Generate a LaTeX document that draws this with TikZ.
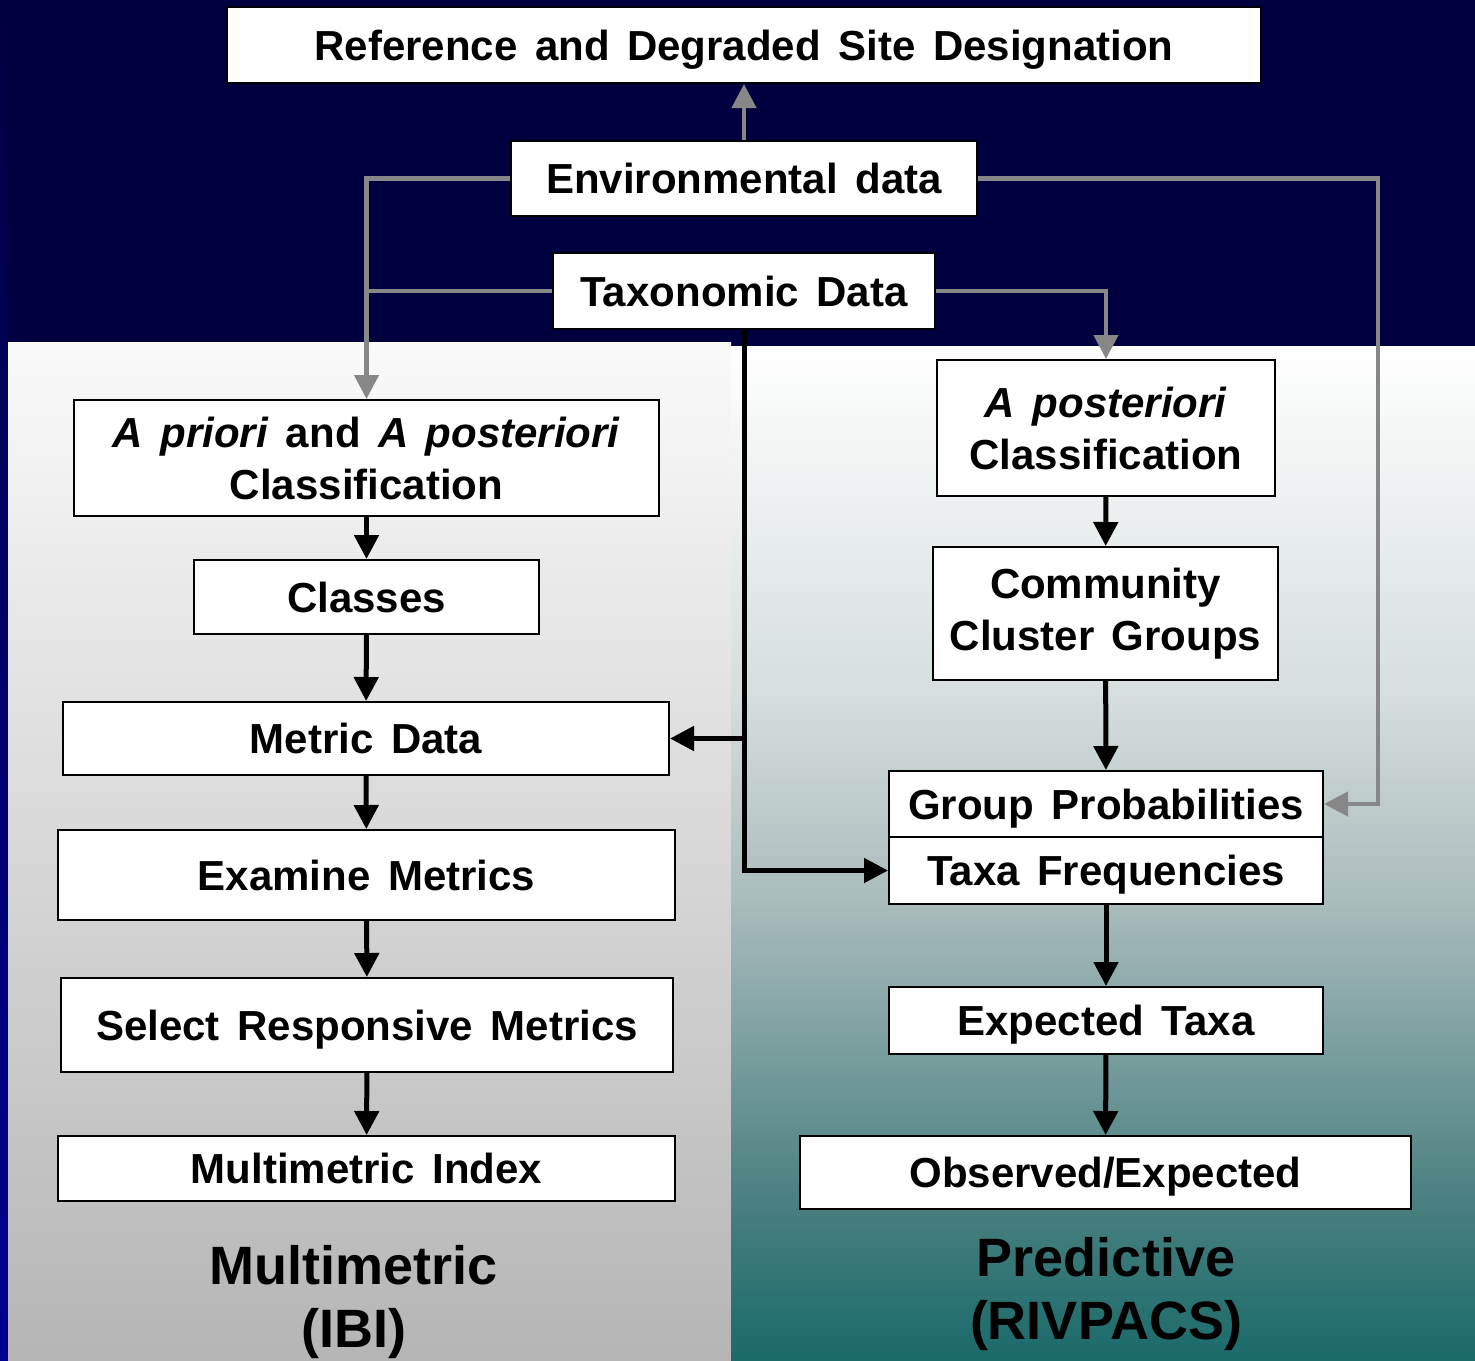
\documentclass[tikz,border=0pt]{standalone}
\usepackage{fontspec}
\setmainfont{Liberation Sans}[WordSpace=1.5]
\usetikzlibrary{arrows.meta,
                positioning
            }

\definecolor{navybg}{HTML}{000040}
\definecolor{stripblue}{HTML}{000090}
\definecolor{feedgray}{HTML}{878787}
\definecolor{tealA}{HTML}{D5DDDD}
\definecolor{tealB}{HTML}{AABCBC}
\definecolor{tealC}{HTML}{4A8080}
\definecolor{tealD}{HTML}{1A6A6A}

\newcommand{\boxfont}{\bfseries\fontsize{42}{52}\selectfont}
\newcommand{\panelfont}{\bfseries\fontsize{54}{63}\selectfont}

\tikzset{
    stepbox/.style={draw=black, line width=2pt, fill=white, font=\boxfont,
                    align=center, inner sep=0pt},
    oneline/.style={text height=30pt, text depth=0pt},
    panellabel/.style={font=\panelfont, align=center, inner sep=0pt},
    flow/.style={draw=black, line width=5pt, -{Triangle[length=24pt, width=24pt]}},
    feed/.style={draw=feedgray, line width=4.5pt, -{Triangle[length=24pt, width=24pt]}},
    feedline/.style={draw=feedgray, line width=4.5pt}
}

\begin{document}
\begin{tikzpicture}[x=1pt, y=-1pt]
            \useasboundingbox (0,0) rectangle (1475,1360);
            % background panels
            \fill[navybg] (0,0) rectangle (1475,1360);
            \shade[top color=navybg, bottom color=stripblue] (0,0) rectangle (8,1360);
            \shade[top color=white!98!black, bottom color=black!29] (8,342) rectangle (731,1360);
            \shade[top color=white, bottom color=tealA] (731,346) rectangle (1475,700);
            \shade[top color=tealA, bottom color=tealB] (731,700) rectangle (1475,900);
            \shade[top color=tealB, bottom color=tealC] (731,900) rectangle (1475,1200);
            \shade[top color=tealC, bottom color=tealD] (731,1200) rectangle (1475,1360);

            % data sources
            \node[stepbox, oneline, minimum width=1034pt, minimum height=76pt] (ref) at (744,45) {Reference and Degraded Site Designation};
            \node[stepbox, oneline, minimum width=466pt, minimum height=75pt] (env) at (744,178.5) {Environmental data};
            \node[stepbox, oneline, minimum width=382pt, minimum height=76pt] (tax) at (744,291) {Taxonomic Data};

            % multimetric side
            \node[stepbox, minimum width=585pt, minimum height=116pt] (apri) at (366.5,458) {\textit{A priori} and \textit{A posteriori}\\Classification};
            \node[stepbox, oneline, minimum width=345pt, minimum height=74pt] (classes) at (366.5,597) {Classes};
            \node[stepbox, oneline, minimum width=606pt, minimum height=73pt] (mdata) at (366,738.5) {Metric Data};
            \node[stepbox, oneline, minimum width=617pt, minimum height=90pt] (exam) at (366.5,875) {Examine Metrics};
            \node[stepbox, oneline, minimum width=612pt, minimum height=94pt] (select) at (367,1025) {Select Responsive Metrics};
            \node[stepbox, oneline, minimum width=617pt, minimum height=65pt] (mindex) at (366.5,1168.5) {Multimetric Index};
            \node[panellabel] (ibi) at (354,1302) {Multimetric\\(IBI)};

            % predictive side
            \node[stepbox, minimum width=338pt, minimum height=136pt] (apost) at (1106,428) {\textit{A posteriori}\\Classification};
            \node[stepbox, minimum width=345pt, minimum height=133pt] (comm) at (1105.5,613.5) {Community\\Cluster Groups};
            \node[stepbox, oneline, minimum width=434pt, minimum height=66pt] (grp) at (1106,804) {Group Probabilities};
            \node[stepbox, oneline, minimum width=434pt, minimum height=67pt] (taxa) at (1106,870.5) {Taxa Frequencies};
            \node[stepbox, oneline, minimum width=434pt, minimum height=67pt] (expt) at (1106,1020.5) {Expected Taxa};
            \node[stepbox, oneline, minimum width=611pt, minimum height=73pt] (obs) at (1105.5,1172.5) {Observed/Expected};
            \node[panellabel] (rivpacs) at (1106,1294) {Predictive\\(RIVPACS)};

            % gray feeds
            \coordinate (envturn) at (1378,178.5);
            \draw[feed] (env.north) -- (ref.south);
            \draw[feed] (env.west) -| (apri.north);
            \draw[feedline] (tax.west) -- (tax.west -| apri.north);
            \draw[feed] (tax.east) -| (apost.north);
            \draw[feed] (env.east) -- (envturn) |- (grp.east);

            % black flows
            \draw[flow] (tax.south) |- (taxa.west);
            \draw[flow] (tax.south |- mdata.east) -- (mdata.east);
            \draw[flow] (apri) -- (classes);
            \draw[flow] (classes) -- (mdata);
            \draw[flow] (mdata) -- (exam);
            \draw[flow] (exam) -- (select);
            \draw[flow] (select) -- (mindex);
            \draw[flow] (apost) -- (comm);
            \draw[flow] (comm) -- (grp);
            \draw[flow] (taxa) -- (expt);
            \draw[flow] (expt) -- (obs);
        \end{tikzpicture}
\end{document}
